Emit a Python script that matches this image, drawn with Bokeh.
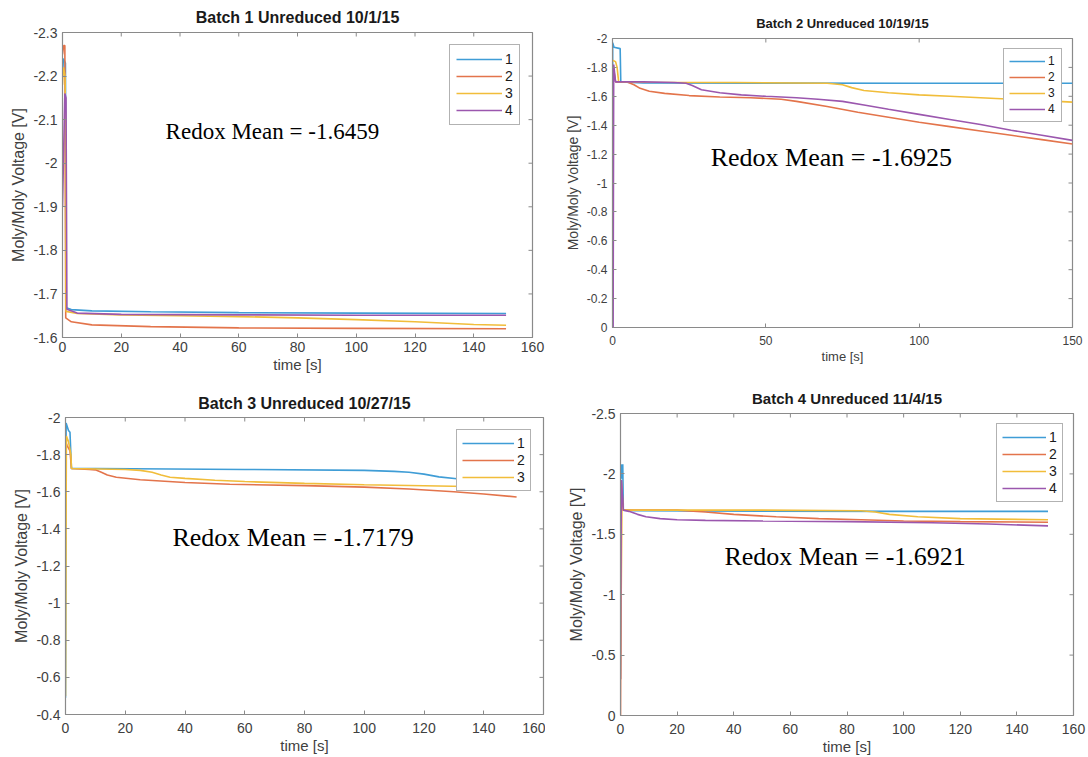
import math
from bokeh.plotting import figure
from bokeh.models import Range1d, FixedTicker, Legend, LegendItem, Label
from bokeh.layouts import column, row
from bokeh.embed import file_html
from bokeh.resources import INLINE

# ---------------- data ----------------
series_names = ["1", "2", "3", "4"]
colors = ["#3f9dd6", "#e3744b", "#f1bd3a", "#9b57ae"]

# Batch 1
b1_t1 = [0, 0.3, 1.0, 1.3, 3, 10, 30, 60, 100, 151]
b1_v1 = [-2.20, -2.24, -2.23, -1.668, -1.664, -1.661, -1.659, -1.657, -1.656, -1.655]
b1_t2 = [0, 0.4, 0.8, 1.1, 3, 10, 30, 60, 100, 151]
b1_v2 = [-2.25, -2.27, -2.27, -1.645, -1.636, -1.629, -1.625, -1.622, -1.621, -1.620]
b1_t3 = [0, 0.3, 0.9, 1.2, 5, 20, 40, 60, 80, 100, 120, 140, 151]
b1_v3 = [-2.18, -2.22, -2.20, -1.660, -1.655, -1.652, -1.650, -1.648, -1.645, -1.641, -1.636, -1.630, -1.628]
b1_t4 = [0, 0.8, 1.2, 1.5, 5, 20, 60, 100, 151]
b1_v4 = [-1.90, -2.16, -2.15, -1.665, -1.656, -1.653, -1.652, -1.651, -1.651]

# Batch 2
b2_t1 = [0, 0.05, 0.5, 2.5, 2.7, 10, 50, 100, 150]
b2_v1 = [0, -1.97, -1.94, -1.93, -1.70, -1.692, -1.691, -1.690, -1.690]
b2_t2 = [0, 0.3, 1, 5, 7, 9, 12, 17, 25, 35, 45, 55, 60, 70, 80, 90, 100, 110, 120, 130, 140, 150]
b2_v2 = [-1.75, -1.80, -1.70, -1.697, -1.68, -1.655, -1.635, -1.62, -1.605, -1.595, -1.59, -1.58,
         -1.565, -1.53, -1.49, -1.455, -1.42, -1.39, -1.36, -1.33, -1.30, -1.27]
b2_t3 = [0, 1, 1.5, 2, 10, 40, 70, 75, 78, 82, 90, 100, 110, 125, 140, 150]
b2_v3 = [-1.85, -1.84, -1.80, -1.70, -1.697, -1.695, -1.69, -1.68, -1.66, -1.64, -1.625, -1.61,
         -1.60, -1.585, -1.57, -1.56]
b2_t4 = [0.2, 0.4, 1, 10, 20, 24, 26, 29, 35, 42, 50, 60, 67, 75, 82, 90, 100, 110, 120, 130, 140, 150]
b2_v4 = [0, -1.82, -1.70, -1.70, -1.695, -1.69, -1.675, -1.645, -1.625, -1.61, -1.60, -1.59, -1.58,
         -1.565, -1.54, -1.51, -1.475, -1.44, -1.405, -1.365, -1.33, -1.295]

# Batch 3
b3_t1 = [0, 0.2, 1, 1.5, 2, 10, 60, 100, 110, 115, 120, 125, 131, 140, 151]
b3_v1 = [-0.49, -1.97, -1.93, -1.92, -1.725, -1.725, -1.72, -1.715, -1.71, -1.705, -1.695, -1.68,
         -1.67, -1.66, -1.655]
b3_t2 = [0.3, 0.5, 1.5, 2, 8, 10, 12, 14, 17, 25, 40, 55, 80, 100, 115, 130, 140, 151]
b3_v2 = [-1.86, -1.85, -1.82, -1.725, -1.72, -1.718, -1.705, -1.69, -1.678, -1.665, -1.65, -1.64,
         -1.633, -1.625, -1.615, -1.60, -1.588, -1.572]
b3_t3 = [0, 0.3, 1, 1.8, 2, 20, 25, 29, 32, 35, 40, 50, 60, 80, 100, 120, 151]
b3_v3 = [-0.5, -1.90, -1.87, -1.80, -1.725, -1.72, -1.715, -1.705, -1.69, -1.678, -1.672, -1.662,
         -1.655, -1.645, -1.638, -1.632, -1.624]

# Batch 4
b4_t1 = [0, 0.2, 0.5, 0.8, 1.0, 5, 50, 100, 151]
b4_v1 = [-1.95, -2.08, -1.96, -2.08, -1.70, -1.695, -1.692, -1.69, -1.69]
b4_t2 = [0, 0.3, 1, 20, 30, 40, 55, 70, 85, 100, 120, 151]
b4_v2 = [0, -1.95, -1.70, -1.70, -1.685, -1.665, -1.645, -1.63, -1.62, -1.61, -1.605, -1.60]
b4_t3 = [0, 0.5, 1, 50, 85, 90, 95, 105, 120, 151]
b4_v3 = [-0.3, -1.72, -1.70, -1.70, -1.695, -1.685, -1.665, -1.645, -1.63, -1.62]
b4_t4 = [0, 0.3, 1, 3, 6, 9, 14, 20, 30, 50, 80, 110, 130, 151]
b4_v4 = [-0.3, -1.95, -1.70, -1.69, -1.665, -1.645, -1.63, -1.62, -1.615, -1.61, -1.605, -1.595,
         -1.585, -1.57]

titles = ["Batch 1 Unreduced 10/1/15", "Batch 2 Unreduced 10/19/15",
          "Batch 3 Unreduced 10/27/15", "Batch 4 Unreduced 11/4/15"]
redox_texts = ["Redox Mean = -1.6459", "Redox Mean = -1.6925",
               "Redox Mean = -1.7179", "Redox Mean = -1.6921"]

b1_xticks = [0, 20, 40, 60, 80, 100, 120, 140, 160]
b1_yticks = [-2.3, -2.2, -2.1, -2.0, -1.9, -1.8, -1.7, -1.6]
b2_xticks = [0, 50, 100, 150]
b2_yticks = [-2.0, -1.8, -1.6, -1.4, -1.2, -1.0, -0.8, -0.6, -0.4, -0.2, 0]
b3_xticks = [0, 20, 40, 60, 80, 100, 120, 140, 160]
b3_yticks = [-2.0, -1.8, -1.6, -1.4, -1.2, -1.0, -0.8, -0.6, -0.4]
b4_xticks = [0, 20, 40, 60, 80, 100, 120, 140, 160]
b4_yticks = [-2.5, -2.0, -1.5, -1.0, -0.5, 0]

AX_COL = "#8a8a8a"
TXT_COL = "#404040"


def fmt(v):
    s = f"{v:g}"
    return "0" if s in ("-0", "0") else s


def make_panel(title, series, xr, yr, xticks, yticks, size, borders, fonts, text_pos, legend_cfg):
    w, h = size
    bl, br, bt, bb = borders
    p = figure(width=w, height=h, output_backend="svg", toolbar_location=None,
               x_range=Range1d(*xr), y_range=Range1d(*yr),
               min_border_left=bl, min_border_right=br, min_border_top=bt, min_border_bottom=bb,
               x_axis_label="time [s]", y_axis_label="Moly/Moly Voltage [V]")
    p.xgrid.visible = False
    p.ygrid.visible = False
    p.outline_line_color = AX_COL
    p.outline_line_width = 1.2
    p.background_fill_color = "white"
    p.border_fill_color = "white"

    p.title.text = title
    p.title.align = "center"
    p.title.text_font = "Liberation Sans"
    p.title.text_font_style = "bold"
    p.title.text_font_size = fonts["title"]
    p.title.text_color = "#1a1a1a"
    p.title.standoff = fonts["title_standoff"]

    p.xaxis.ticker = FixedTicker(ticks=xticks)
    p.yaxis.ticker = FixedTicker(ticks=yticks)
    p.xaxis.major_label_overrides = {float(v): fmt(v) for v in xticks}
    p.yaxis.major_label_overrides = {float(v): fmt(v) for v in yticks}
    for ax in (p.xaxis[0], p.yaxis[0]):
        ax.axis_line_color = AX_COL
        ax.major_tick_line_color = AX_COL
        ax.major_tick_in = 4
        ax.major_tick_out = 0
        ax.minor_tick_line_color = None
        ax.major_label_text_font = "Liberation Sans"
        ax.major_label_text_font_size = fonts["tick"]
        ax.major_label_text_color = TXT_COL
        ax.axis_label_text_font = "Liberation Sans"
        ax.axis_label_text_font_style = "normal"
        ax.axis_label_text_color = TXT_COL
    p.xaxis.axis_label_text_font_size = fonts["xlabel"]
    p.yaxis.axis_label_text_font_size = fonts["ylabel"]
    p.xaxis.major_label_standoff = fonts["x_standoff"]
    p.yaxis.major_label_standoff = 5
    p.xaxis.axis_label_standoff = 1
    p.yaxis.axis_label_standoff = 3

    # mirrored inside ticks on right and top edges (box on); clipped to the frame
    p.scatter(x=[xr[1]] * len(yticks), y=yticks, marker="dash", size=8,
              line_color=AX_COL, line_width=1)
    p.scatter(x=xticks, y=[yr[1]] * len(xticks), marker="dash", size=8, angle=math.pi / 2,
              line_color=AX_COL, line_width=1)

    items = []
    for i, (t, v) in enumerate(series):
        r = p.line(t, v, line_color=colors[i], line_width=1.6)
        items.append(LegendItem(label=series_names[i], renderers=[r]))

    tx, ty = text_pos
    p.add_layout(Label(x=tx, y=ty, text=fonts["redox_text"], text_font="Liberation Serif",
                       text_font_size=fonts["redox"], text_color="black", text_baseline="middle"))

    leg = Legend(items=items, location="top_right")
    leg.margin = legend_cfg["margin"]
    leg.padding = legend_cfg["padding"]
    leg.spacing = legend_cfg["spacing"]
    leg.glyph_width = legend_cfg["glyph_width"]
    leg.glyph_height = legend_cfg["glyph_height"]
    leg.label_width = 8
    leg.label_standoff = 3
    leg.label_text_font = "Liberation Sans"
    leg.label_text_font_size = legend_cfg["font"]
    leg.label_text_color = "#1a1a1a"
    leg.label_height = legend_cfg["glyph_height"]
    leg.border_line_color = "#666666"
    leg.border_line_width = 1.5
    leg.background_fill_color = "white"
    leg.background_fill_alpha = 1.0
    p.add_layout(leg, "center")
    return p


p1 = make_panel(titles[0],
                [(b1_t1, b1_v1), (b1_t2, b1_v2), (b1_t3, b1_v3), (b1_t4, b1_v4)],
                (0, 160), (-1.6, -2.3), b1_xticks, b1_yticks,
                (545, 375), (62, 13, 32, 38),
                dict(title="16px", title_standoff=13, tick="14px", xlabel="15px", ylabel="16px",
                     x_standoff=4, redox="23px", redox_text=redox_texts[0]),
                (35.1, -2.072),
                dict(margin=12, padding=6, spacing=1, glyph_width=46, glyph_height=14, font="14px"))

p2 = make_panel(titles[1],
                [(b2_t1, b2_v1), (b2_t2, b2_v2), (b2_t3, b2_v3), (b2_t4, b2_v4)],
                (0, 150), (0, -2.0), b2_xticks, b2_yticks,
                (543, 375), (67, 16, 38, 48),
                dict(title="13px", title_standoff=16, tick="12px", xlabel="13px", ylabel="14px",
                     x_standoff=8, redox="26px", redox_text=redox_texts[1]),
                (32.0, -1.176),
                dict(margin=10, padding=5, spacing=2, glyph_width=36, glyph_height=14, font="12px"))

p3 = make_panel(titles[2],
                [(b3_t1, b3_v1), (b3_t2, b3_v2), (b3_t3, b3_v3)],
                (0, 160), (-0.4, -2.0), b3_xticks, b3_yticks,
                (545, 382), (65, 2, 42, 43),
                dict(title="16px", title_standoff=12, tick="14px", xlabel="15px", ylabel="16px",
                     x_standoff=8, redox="26px", redox_text=redox_texts[2]),
                (35.8, -1.354),
                dict(margin=12, padding=5, spacing=1, glyph_width=52, glyph_height=14, font="14px"))

p4 = make_panel(titles[3],
                [(b4_t1, b4_v1), (b4_t2, b4_v2), (b4_t3, b4_v3), (b4_t4, b4_v4)],
                (0, 160), (0, -2.5), b4_xticks, b4_yticks,
                (543, 382), (75, 15, 38, 42),
                dict(title="15px", title_standoff=14, tick="14px", xlabel="15px", ylabel="16px",
                     x_standoff=8, redox="26px", redox_text=redox_texts[3]),
                (36.7, -1.316),
                dict(margin=10, padding=5, spacing=1, glyph_width=44, glyph_height=14, font="14px"))

layout = column(row(column(p1), column(p2), spacing=0),
                row(column(p3), column(p4), spacing=0), spacing=0)

open("out.html", "w").write(file_html(layout, INLINE))
